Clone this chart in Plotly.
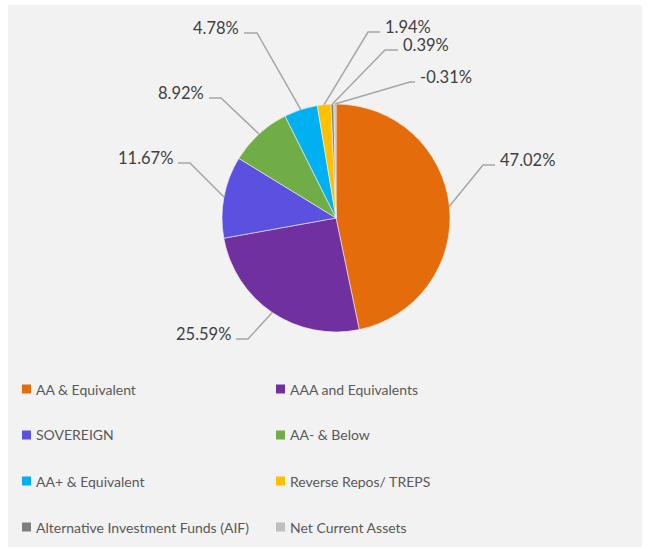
import math
import plotly.graph_objects as go

# data
categories = ["AA & Equivalent", "AAA and Equivalents", "SOVEREIGN", "AA- & Below",
              "AA+ & Equivalent", "Reverse Repos/ TREPS",
              "Alternative Investment Funds (AIF)", "Net Current Assets"]
values = [47.02, 25.59, 11.67, 8.92, 4.78, 1.94, 0.39, -0.31]
label_text = ["47.02%", "25.59%", "11.67%", "8.92%", "4.78%", "1.94%", "0.39%", "-0.31%"]

colors = ["#E46C0A", "#7030A0", "#5B50E0", "#70AD47", "#00B0F0", "#FFC000", "#7F7F7F", "#BFBFBF"]

W, H = 651, 548
CX, CY, R = 336, 218, 114


def px(x):
    return x / W


def py(y):
    return 1 - y / H


# label layout: elbow point (px), hook direction
elbows = [(483, 165, 1), (248, 339, -1), (190, 163, -1), (221, 98, -1),
          (257, 33, -1), (368, 32, 1), (385, 50, 1), (410, 82, 1)]
hooks = [12, 12, 12, 12, 13, 12, 13, 5]

pie_vals = [abs(v) for v in values]
total = sum(pie_vals)

fig = go.Figure()
fig.add_trace(go.Pie(
    labels=categories, values=pie_vals, sort=False, direction="clockwise",
    marker=dict(colors=colors, line=dict(color="#F2F2F2", width=0.6)),
    textinfo="none", hoverinfo="label+text", text=label_text,
    domain=dict(x=[px(CX - R), px(CX + R)], y=[py(CY + R), py(CY - R)]),
    showlegend=False,
))

shapes = [dict(type="rect", xref="paper", yref="paper", x0=px(8), x1=px(642), y0=py(547), y1=py(5),
               fillcolor="#F2F2F2", line=dict(width=0), layer="below")]
annotations = []

cum = 0
for i, v in enumerate(pie_vals):
    mid = (cum + v / 2) / total * 2 * math.pi
    cum += v
    ax = CX + R * math.sin(mid)
    ay = CY - R * math.cos(mid)
    ex, ey, d = elbows[i]
    tx = ex + d * hooks[i]
    shapes.append(dict(type="path", xref="paper", yref="paper",
                       path="M %f,%f L %f,%f L %f,%f" % (px(ax), py(ay), px(ex), py(ey), px(tx), py(ey)),
                       line=dict(color="#A6A6A6", width=1.5)))
    annotations.append(dict(xref="paper", yref="paper", x=px(tx + d * 3), y=py(ey - 5),
                            text=label_text[i], showarrow=False,
                            xanchor="left" if d > 0 else "right", yanchor="middle",
                            font=dict(size=16.5, color="#404040")))

# manual legend, two columns
leg_x = [22, 276]
leg_y = [389, 435, 481, 527]
for i, name in enumerate(categories):
    lx = leg_x[i % 2]
    ly = leg_y[i // 2]
    shapes.append(dict(type="rect", xref="paper", yref="paper",
                       x0=px(lx), x1=px(lx + 9), y0=py(ly + 4.5), y1=py(ly - 4.5),
                       fillcolor=colors[i], line=dict(width=0)))
    annotations.append(dict(xref="paper", yref="paper", x=px(lx + 12), y=py(ly),
                            text=name, showarrow=False, xanchor="left", yanchor="middle",
                            font=dict(size=14, color="#595959")))

fig.update_layout(
    width=W, height=H, margin=dict(l=0, r=0, t=0, b=0),
    paper_bgcolor="White", plot_bgcolor="White",
    font=dict(family="Lato, Open Sans, sans-serif"),
    shapes=shapes, annotations=annotations,
)

# page has a default 8px body margin; drop it so the chart sits at the window origin
fig.write_html("out.html", config={"displayModeBar": False},
               post_script="document.body.style.margin='0px';")
